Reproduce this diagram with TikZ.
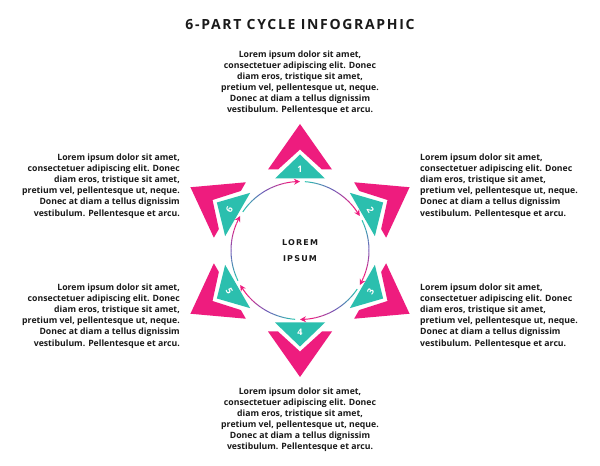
\documentclass[tikz,border=0pt]{standalone}
\usepackage{fontspec}
\setmainfont{Open Sans}
\newfontfamily\centerfont{DejaVu Sans}[LetterSpace=15]
\newfontfamily\titlefont{Open Sans}[LetterSpace=12]
\usetikzlibrary{arrows.meta,bending}
\definecolor{pinkc}{HTML}{EE1C7E}
\definecolor{tealc}{HTML}{2BBFAE}
\definecolor{violc}{HTML}{6E5CB8}
\definecolor{txt}{HTML}{1A1A1A}
\tikzset{
  body/.style={font=\fontsize{8.7}{11.1}\selectfont\bfseries, text=txt, inner sep=0pt},
  chevron/.style={fill=pinkc, draw=none},
  tri/.style={fill=tealc, draw=none},
  num/.style={font=\fontsize{9}{10}\selectfont\bfseries, text=white, inner sep=0pt},
  ring/.style={line width=1pt},
}
\begin{document}
\begin{tikzpicture}[x=1pt,y=1pt]
\useasboundingbox (0,0) rectangle (600,466);
\fill[white] (0,0) rectangle (600,466);
\coordinate (C) at (300,215.5);

% title
\node[font=\fontsize{14}{16}\selectfont\titlefont\bfseries, text=txt] (title) at (300,442) {6-PART CYCLE INFOGRAPHIC};

% text blocks
\node[body, align=center] (tT) at (300,383.5) {Lorem ipsum dolor sit amet,\\ consectetuer adipiscing elit. Donec\\ diam eros, tristique sit amet,\\ pretium vel, pellentesque ut, neque.\\ Donec at diam a tellus dignissim\\ vestibulum. Pellentesque et arcu.};
\node[body, align=right, anchor=east] (tLU) at (180,280) {Lorem ipsum dolor sit amet,\\ consectetuer adipiscing elit. Donec\\ diam eros, tristique sit amet,\\ pretium vel, pellentesque ut, neque.\\ Donec at diam a tellus dignissim\\ vestibulum. Pellentesque et arcu.};
\node[body, align=left, anchor=west] (tRU) at (420,280) {Lorem ipsum dolor sit amet,\\ consectetuer adipiscing elit. Donec\\ diam eros, tristique sit amet,\\ pretium vel, pellentesque ut, neque.\\ Donec at diam a tellus dignissim\\ vestibulum. Pellentesque et arcu.};
\node[body, align=right, anchor=east] (tLL) at (180,150) {Lorem ipsum dolor sit amet,\\ consectetuer adipiscing elit. Donec\\ diam eros, tristique sit amet,\\ pretium vel, pellentesque ut, neque.\\ Donec at diam a tellus dignissim\\ vestibulum. Pellentesque et arcu.};
\node[body, align=left, anchor=west] (tRL) at (420,150) {Lorem ipsum dolor sit amet,\\ consectetuer adipiscing elit. Donec\\ diam eros, tristique sit amet,\\ pretium vel, pellentesque ut, neque.\\ Donec at diam a tellus dignissim\\ vestibulum. Pellentesque et arcu.};
\node[body, align=center] (tB) at (300,46.5) {Lorem ipsum dolor sit amet,\\ consectetuer adipiscing elit. Donec\\ diam eros, tristique sit amet,\\ pretium vel, pellentesque ut, neque.\\ Donec at diam a tellus dignissim\\ vestibulum. Pellentesque et arcu.};

% centre label
\node[font=\fontsize{8}{16}\selectfont\centerfont\bfseries, text=txt, align=center] (ctr) at (C) {LOREM\\IPSUM};

% chevrons, triangles and numbers
\foreach \k/\rot in {1/0, 2/-60, 3/60, 4/0, 5/-60, 6/60} {
  \pgfmathsetmacro{\th}{90-60*(\k-1)}
  \begin{scope}[shift={(C)}, rotate=\th-90]
    \fill[chevron] (0,126.5) -- (32,81) -- (22,81) -- (0,101) -- (-22,81) -- (-32,81) -- cycle;
    \fill[tri] (0,96) -- (25,72) -- (-25,72) -- cycle;
    \coordinate (m\k) at (0,81.5);
  \end{scope}
  \node[num, rotate=\rot] (n\k) at (m\k) {\k};
}

% ring arcs with gradient and arrowheads
\foreach \k in {1,...,6} {
  \pgfmathsetmacro{\s}{90-60*(\k-1)-4}
  \pgfmathsetmacro{\e}{90-60*\k}
  \pgfmathsetmacro{\ea}{\e+7}
  \coordinate (s\k) at ([shift={(\s:69)}]C);
  \foreach \i in {0,...,15} {
    \pgfmathsetmacro{\aa}{\s+(\ea-\s)*\i/16}
    \pgfmathsetmacro{\ab}{\s+(\ea-\s)*(\i+1)/16}
    \pgfmathtruncatemacro{\p}{\i*100/15}
    \ifnum\p<50
      \pgfmathtruncatemacro{\q}{100-2*\p}
      \colorlet{segc}{tealc!\q!violc}
    \else
      \pgfmathtruncatemacro{\q}{200-2*\p}
      \colorlet{segc}{violc!\q!pinkc}
    \fi
    \draw[ring, segc] (C) ++(\aa:69) arc[start angle=\aa, end angle=\ab, radius=69];
  }
  \draw[ring, pinkc, -{Stealth[length=6pt,width=6pt,bend]}] (C) ++(\ea:69) arc[start angle=\ea, end angle=\e, radius=69];
}
\end{tikzpicture}
\end{document}
